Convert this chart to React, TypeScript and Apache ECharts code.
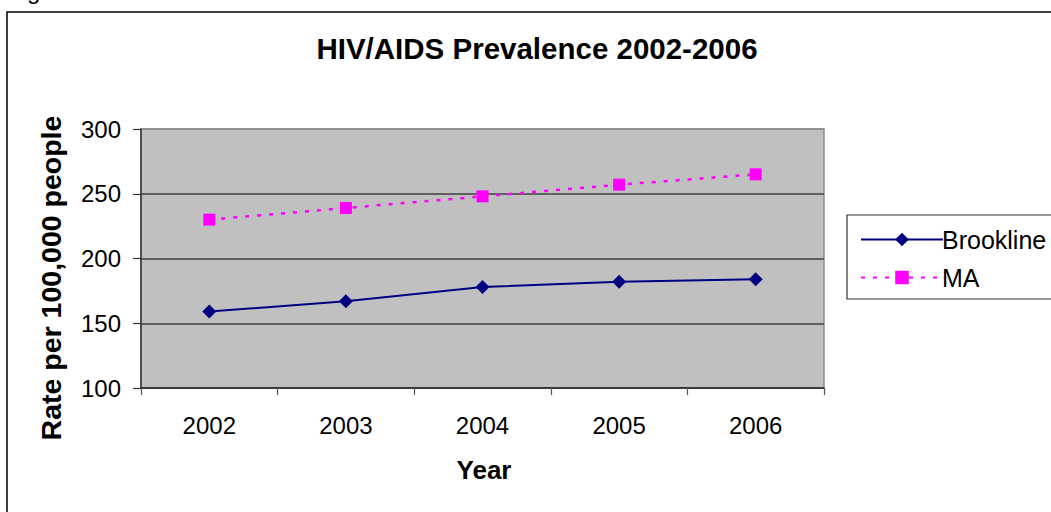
import React, { useEffect, useRef } from "react";
import * as echarts from "echarts";

const years = ["2002", "2003", "2004", "2005", "2006"];
const brookline = [159, 167, 178, 182, 184];
const ma = [230, 239, 248, 257, 265];
const yTicks = { min: 100, max: 300, interval: 50 };

const FONT = "'Liberation Sans', Arial, sans-serif";

export default function App() {
  const ref = useRef<HTMLDivElement>(null);

  useEffect(() => {
    if (!ref.current) return;
    const chart = echarts.init(ref.current, null, { renderer: "svg" });
    chart.setOption({
      animation: false,
      backgroundColor: "#ffffff",
      textStyle: { fontFamily: FONT },
      grid: {
        left: 141,
        top: 129,
        right: 227,
        bottom: 124,
        show: true,
        backgroundColor: "#C0C0C0",
        borderColor: "#8c8c8c",
        borderWidth: 1.5,
      },
      legend: {
        orient: "vertical",
        left: 855,
        top: 222,
        itemWidth: 82,
        itemHeight: 17,
        itemGap: 13,
        textStyle: { fontSize: 25, color: "#000", fontFamily: FONT, padding: [0, 0, 0, -6] },
        data: ["Brookline", "MA"],
      },
      xAxis: {
        type: "category",
        data: years,
        axisLine: { lineStyle: { color: "#333", width: 1.5 } },
        axisTick: { show: true, length: 7, lineStyle: { color: "#555", width: 1.2 } },
        axisLabel: { color: "#000", fontSize: 24, margin: 25, fontFamily: FONT },
        splitLine: { show: false },
      },
      yAxis: {
        type: "value",
        min: yTicks.min,
        max: yTicks.max,
        interval: yTicks.interval,
        axisLine: { show: true, lineStyle: { color: "#333", width: 1.5 } },
        axisTick: { show: true, length: 8, lineStyle: { color: "#333", width: 1.2 } },
        axisLabel: { color: "#000", fontSize: 24, margin: 20, fontFamily: FONT },
        splitLine: {
          show: true,
          lineStyle: { color: ["#333", "#404040", "#404040", "#404040", "#8c8c8c"], width: 1.5 },
        },
      },
      series: [
        {
          name: "Brookline",
          type: "line",
          data: brookline,
          symbol: "diamond",
          symbolSize: 14,
          itemStyle: { color: "#000080" },
          lineStyle: { color: "#000080", width: 2 },
        },
        {
          name: "MA",
          type: "line",
          data: ma,
          symbol: "rect",
          symbolSize: 12,
          itemStyle: { color: "#FF00FF" },
          lineStyle: { color: "#FF00FF", width: 2.5, type: [4, 8] },
        },
      ],
      graphic: [
        {
          type: "rect",
          silent: true,
          shape: { x: 7, y: 12, width: 1100, height: 600 },
          style: { fill: "none", stroke: "#000", lineWidth: 1.5 },
          z: -1,
        },
        {
          type: "rect",
          silent: true,
          shape: { x: 847, y: 215, width: 260, height: 84 },
          style: { fill: "none", stroke: "#333", lineWidth: 1.2 },
        },
        {
          type: "text",
          left: 7,
          top: -22,
          style: { text: "Figure", fontSize: 24, fontFamily: FONT, fill: "#000" },
        },
        {
          type: "text",
          x: 537,
          y: 48,
          style: {
            text: "HIV/AIDS Prevalence 2002-2006",
            fontSize: 29.5,
            fontWeight: "bold",
            fontFamily: FONT,
            fill: "#000",
            align: "center",
            verticalAlign: "middle",
          },
        },
        {
          type: "text",
          x: 484,
          y: 470,
          style: {
            text: "Year",
            fontSize: 26,
            fontWeight: "bold",
            fontFamily: FONT,
            fill: "#000",
            align: "center",
            verticalAlign: "middle",
          },
        },
        {
          type: "text",
          x: 51,
          y: 278,
          rotation: Math.PI / 2,
          style: {
            text: "Rate per 100,000 people",
            fontSize: 28.5,
            fontWeight: "bold",
            fontFamily: FONT,
            fill: "#000",
            align: "center",
            verticalAlign: "middle",
          },
        },
      ],
    });
    return () => chart.dispose();
  }, []);

  return (
    <div
      ref={ref}
      style={{ position: "fixed", left: 0, top: 0, width: 1051, height: 512, background: "#fff" }}
    />
  );
}
